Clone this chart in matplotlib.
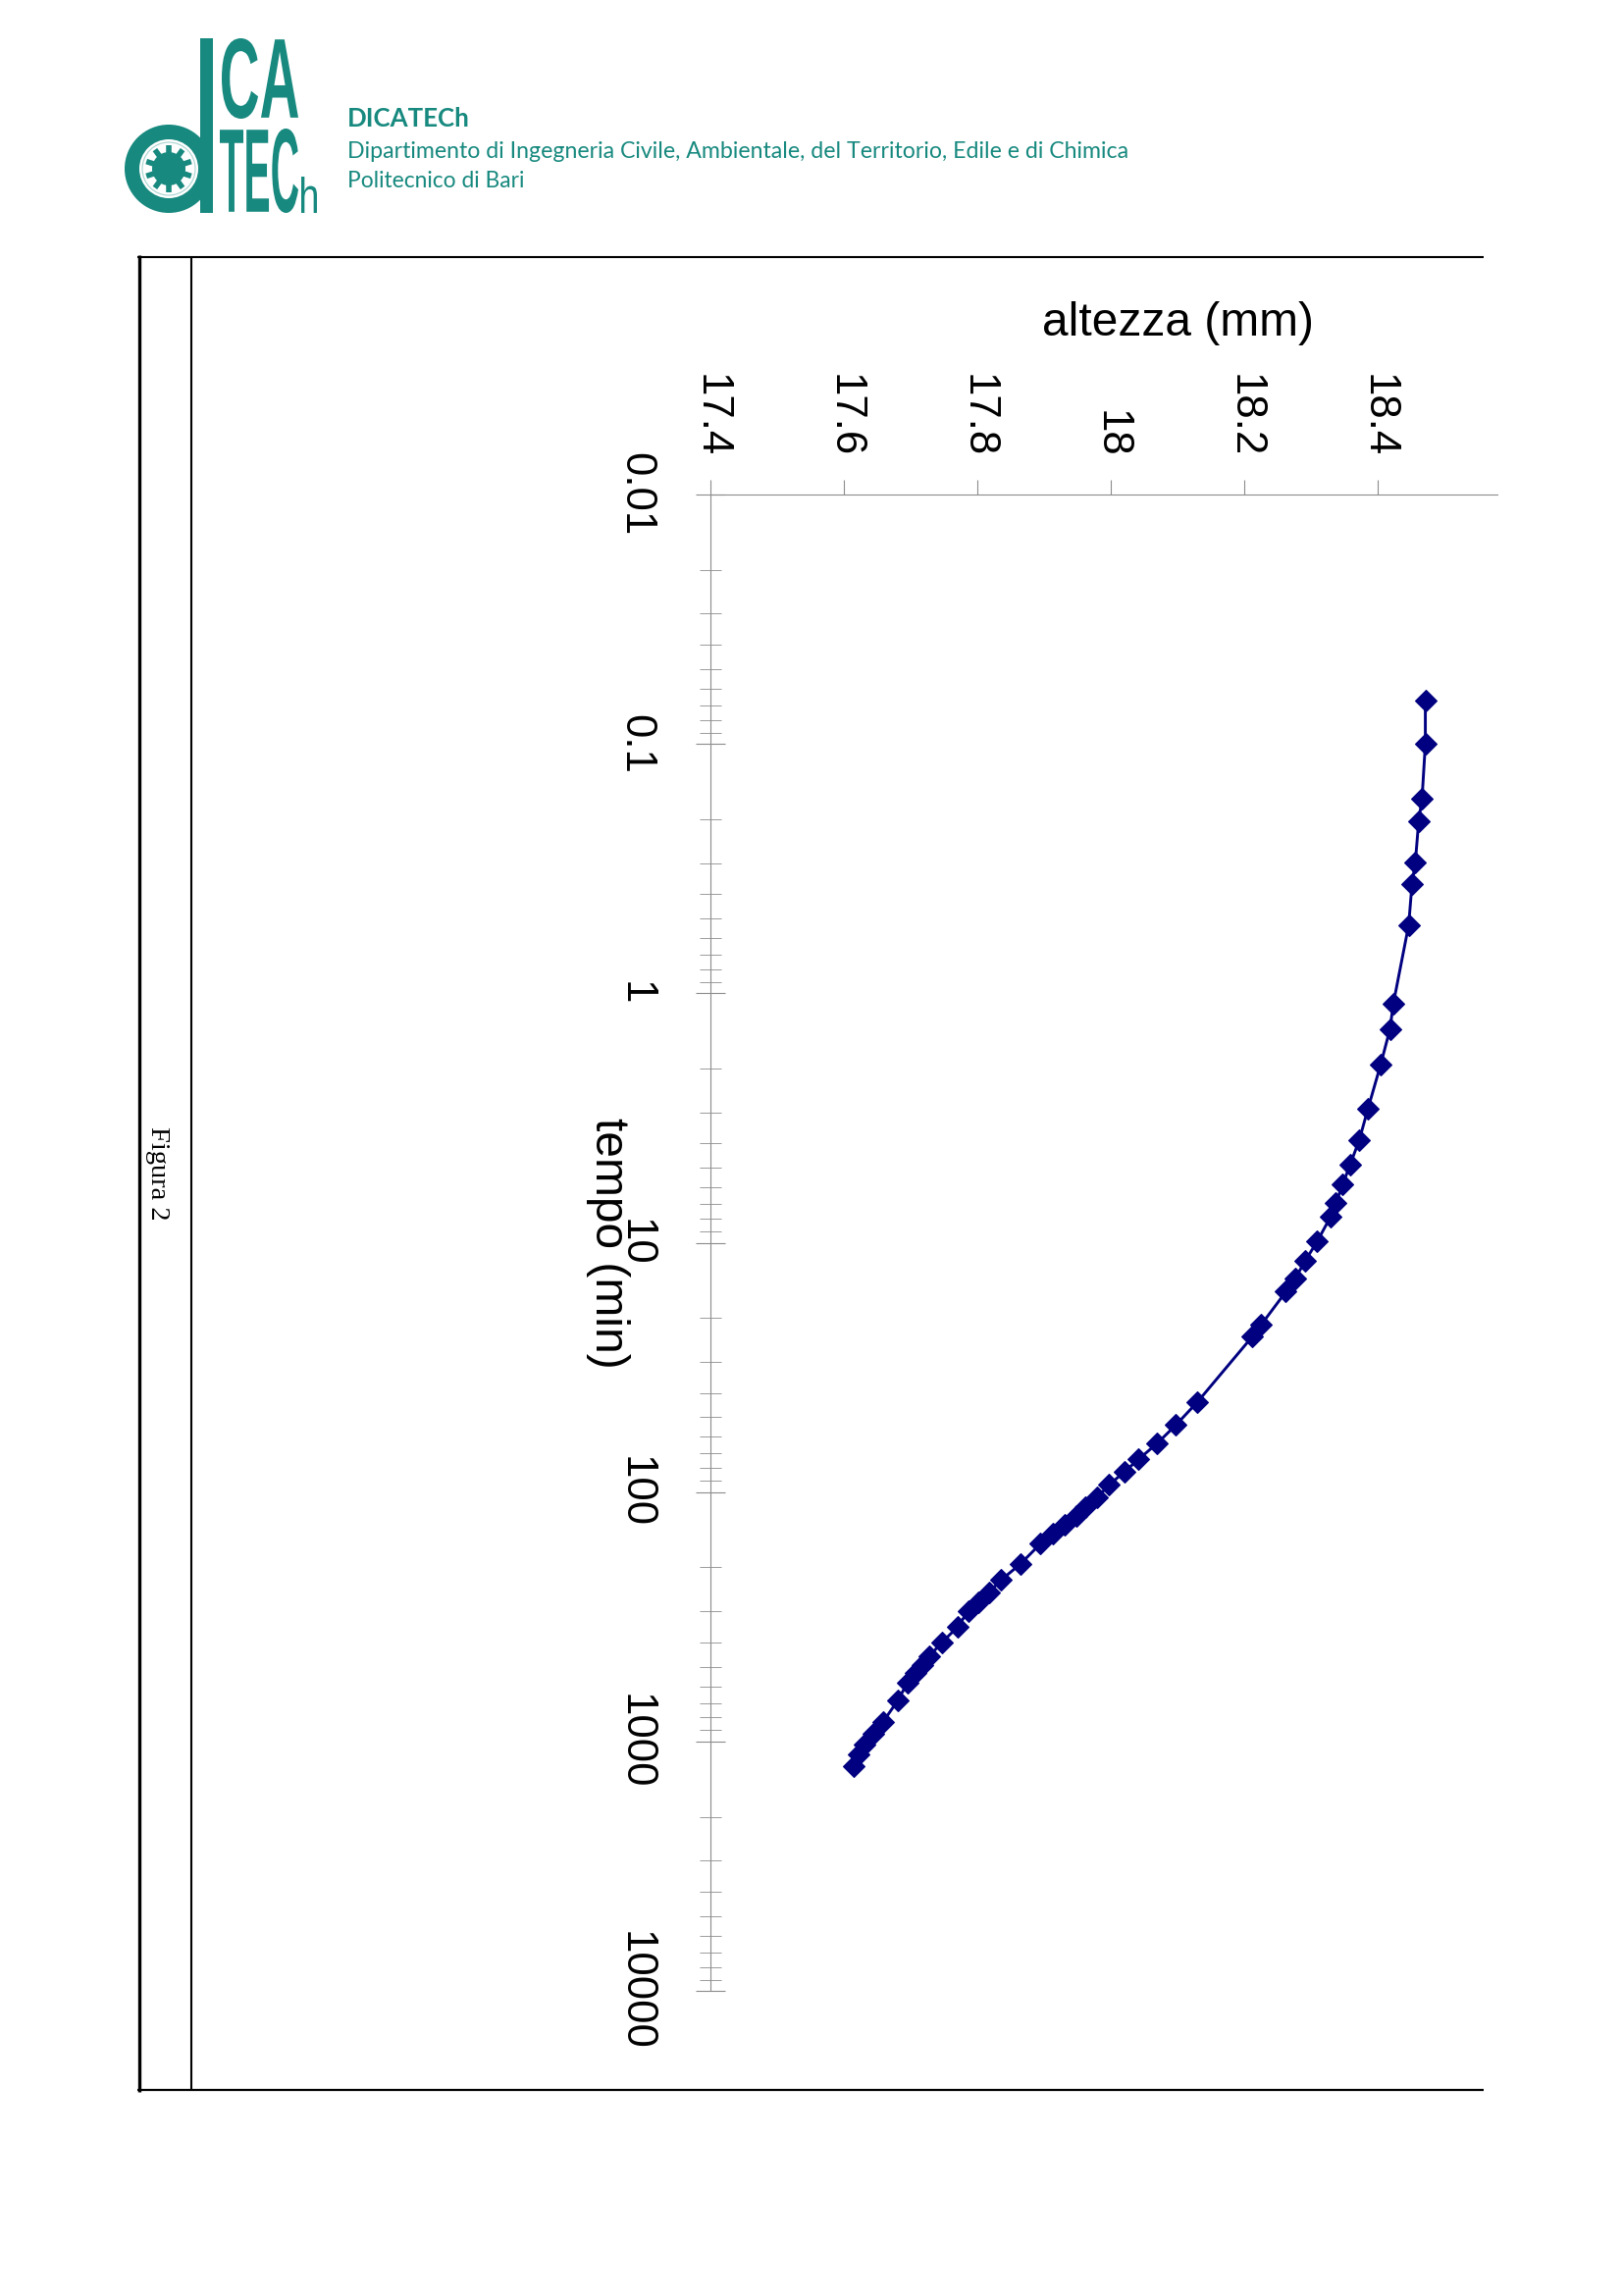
import math
import matplotlib
matplotlib.use("Agg")
import matplotlib.pyplot as plt
from matplotlib.patches import Rectangle, Circle, PathPatch
from matplotlib.lines import Line2D
from matplotlib.textpath import TextPath
from matplotlib.font_manager import FontProperties
from matplotlib.transforms import Affine2D
from matplotlib.ticker import FixedLocator, LogLocator, FuncFormatter, NullFormatter

# consolidation reading: time (min) and specimen height (mm)
tempo_min = [0.067, 0.10, 0.166, 0.204, 0.298, 0.364, 0.532, 1.10, 1.39, 1.93,
             2.90, 3.87, 4.88, 5.84, 6.92, 7.86, 9.86, 11.8, 13.9, 15.7,
             21.3, 23.7, 43.6, 53.8, 63.7, 73.8, 82.8, 93.4, 105, 115,
             124, 135, 146, 161, 194, 225, 252, 277, 299, 347,
             401, 456, 492, 530, 580, 686, 834, 927, 1031, 1128, 1254]
altezza_mm = [18.471, 18.471, 18.466, 18.461, 18.456, 18.451, 18.446, 18.423, 18.418, 18.404,
              18.385, 18.372, 18.358, 18.347, 18.337, 18.329, 18.309, 18.291, 18.276, 18.262,
              18.225, 18.212, 18.129, 18.097, 18.069, 18.041, 18.020, 17.997, 17.979, 17.962,
              17.948, 17.930, 17.913, 17.894, 17.864, 17.835, 17.817, 17.801, 17.786, 17.770,
              17.746, 17.727, 17.717, 17.707, 17.695, 17.680, 17.658, 17.644, 17.631, 17.622, 17.614]

altezza_range = (17.4, 18.8)
altezza_ticks = [17.4, 17.6, 17.8, 18.0, 18.2, 18.4, 18.6]
tempo_ticks = [0.01, 0.1, 1, 10, 100, 1000, 10000]

TEAL = '#17897f'
NAVY = '#000080'
GREY = '#8c8c8c'

plt.rcParams['font.family'] = ['Liberation Sans', 'DejaVu Sans']

W, H, DPI = 1654, 2340, 100
fig = plt.figure(figsize=(W / DPI, H / DPI), dpi=DPI)
fig.patch.set_facecolor('white')

# page layer in pixel units, y growing downwards
page = fig.add_axes([0, 0, 1, 1], zorder=0)
page.set_xlim(0, W)
page.set_ylim(H, 0)
page.axis('off')


def seg(ax, xs, ys, lw, color='black'):
    ax.add_line(Line2D(xs, ys, color=color, lw=lw, solid_capstyle='butt'))


def glyphs(ax, s, box, color, family='Liberation Sans', weight='normal'):
    """Draw a string stretched to fill a pixel box (x0, y0, x1, y1)."""
    x0, y0, x1, y1 = box
    tp = TextPath((0, 0), s, size=100, prop=FontProperties(family=family, weight=weight))
    ext = tp.get_extents()
    tr = (Affine2D().translate(-ext.x0, -ext.y0)
          .scale((x1 - x0) / ext.width, -(y1 - y0) / ext.height)
          .translate(x0, y1))
    ax.add_patch(PathPatch(tr.transform_path(tp), fc=color, ec='none'))


renderer = fig.canvas.get_renderer()


def fitted_text(ax, x, y, s, width, **kw):
    t = ax.text(x, y, s, ha='left', va='baseline', **kw)
    w = t.get_window_extent(renderer).width
    t.set_fontsize(t.get_fontsize() * width / w)
    return t


# ---- department logo ----
page.add_patch(Circle((172, 172), 45, fc=TEAL, ec='none'))
page.add_patch(Circle((172, 172), 30, fc='white', ec='none'))
page.add_patch(Circle((172, 172), 27, fc='none', ec='#a8d3cf', lw=0.8))
page.add_patch(Circle((172, 172), 17, fc=TEAL, ec='none'))
for k in range(10):
    a = math.radians(k * 36 + 18)
    seg(page, [172 + 12 * math.cos(a), 172 + 24 * math.cos(a)],
        [172 + 12 * math.sin(a), 172 + 24 * math.sin(a)], 4.0, TEAL)
page.add_patch(Rectangle((204, 39), 13, 178, fc=TEAL, ec='none'))
glyphs(page, 'CA', (226, 39, 304, 121), TEAL, weight='bold')
glyphs(page, 'TEC', (224, 131, 304, 217), TEAL, weight='bold')
glyphs(page, 'h', (307, 180, 323, 217), TEAL)

fitted_text(page, 354, 129, 'DICATECh', 125, family='Lato', weight='bold',
            color=TEAL, fontsize=20)
fitted_text(page, 354, 161,
            'Dipartimento di Ingegneria Civile, Ambientale, del Territorio, Edile e di Chimica',
            798, family='Lato', color=TEAL, fontsize=14)
fitted_text(page, 354, 191, 'Politecnico di Bari', 181, family='Lato',
            color=TEAL, fontsize=14)

# ---- table frame ----
seg(page, [140, 1512], [262, 262], 1.5)
seg(page, [140, 1512], [2130, 2130], 1.6)
seg(page, [142, 142], [260, 2132], 2.4)
seg(page, [195, 195], [262, 2130], 1.5)
page.text(161, 1196, 'Figura 2', rotation=-90, ha='center', va='center',
          family='Liberation Serif', fontsize=20.5)

# ---- chart (drawn turned by a quarter: height across, time downwards) ----
ax = fig.add_axes([724.3 / W, 1 - 2029.3 / H, 952 / W, 1525.3 / H], zorder=1)
ax.patch.set_visible(False)
ax.set_yscale('log')
ax.set_xlim(*altezza_range)
ax.set_ylim(tempo_ticks[-1], tempo_ticks[0])

ax.plot(altezza_mm, tempo_min, color=NAVY, lw=2.1, marker='D', ms=11.2,
        mec=NAVY, mew=0.8, zorder=3)

for side in ('bottom', 'right'):
    ax.spines[side].set_visible(False)
for side in ('top', 'left'):
    ax.spines[side].set_color(GREY)
    ax.spines[side].set_linewidth(0.8)

fmt = FuncFormatter(lambda v, p: f'{v:g}')
ax.xaxis.tick_top()
ax.xaxis.set_major_locator(FixedLocator(altezza_ticks))
ax.xaxis.set_major_formatter(fmt)
ax.tick_params(axis='x', which='major', direction='out', length=11, width=0.8,
               color=GREY, pad=16, labelsize=31.5, labelrotation=-90,
               top=True, bottom=False, labeltop=True, labelbottom=False)

ax.yaxis.set_major_locator(FixedLocator(tempo_ticks))
ax.yaxis.set_major_formatter(fmt)
ax.yaxis.set_minor_locator(LogLocator(base=10, subs=range(2, 10), numticks=60))
ax.yaxis.set_minor_formatter(NullFormatter())
ax.tick_params(axis='y', which='major', direction='inout', length=21, width=0.8,
               color=GREY, pad=30, labelsize=31.5, labelrotation=-90)
ax.tick_params(axis='y', which='minor', direction='inout', length=15.8, width=0.6,
               color=GREY)
plt.setp(ax.get_yticklabels(), va='center')

ax.set_xlabel('altezza (mm)', fontsize=34.5, va='center', ha='center')
ax.xaxis.set_label_position('top')
ax.xaxis.set_label_coords(0.5, 1.106)
ax.set_ylabel('tempo (min)', fontsize=34.5, rotation=-90, va='center', ha='center')
ax.yaxis.set_label_coords(-0.1106, 0.5)

# the page is cut at its right margin
edge = fig.add_axes([0, 0, 1, 1], zorder=2)
edge.set_xlim(0, W)
edge.set_ylim(H, 0)
edge.axis('off')
edge.patch.set_visible(False)
edge.add_patch(Rectangle((1527, 0), W, H, fc='white', ec='none'))

fig.savefig('out.png', dpi=DPI, facecolor='white')
